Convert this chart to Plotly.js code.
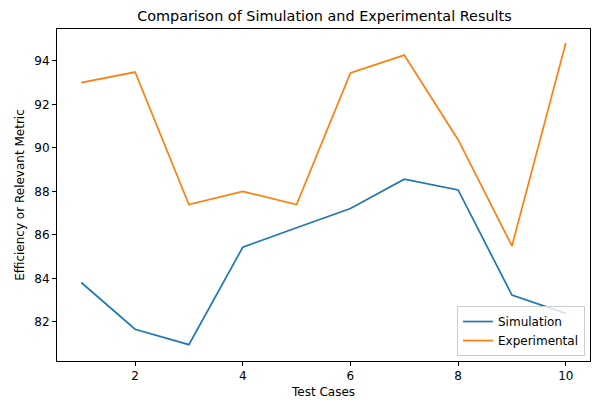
<!DOCTYPE html>
<html>
<head>
<meta charset="utf-8">
<script src="https://cdn.plot.ly/plotly-3.0.1.min.js"></script>
<style>html,body{margin:0;padding:0;background:#fff;}#chart{width:592px;height:400px;}</style>
</head>
<body>
<div id="chart"></div>
<script>
const testCases = [1, 2, 3, 4, 5, 6, 7, 8, 9, 10];
const simulation = [83.81, 81.66, 80.95, 85.43, 86.33, 87.21, 88.56, 88.07, 83.23, 82.39];
const experimental = [93.0, 93.49, 87.40, 88.0, 87.40, 93.45, 94.27, 90.38, 85.49, 94.83];
const seriesNames = ["Simulation", "Experimental"];
const yTicks = [82, 84, 86, 88, 90, 92, 94];
const xTicks = [2, 4, 6, 8, 10];

const font = "DejaVu Sans, sans-serif";
const traces = [
  {x: testCases, y: simulation, name: seriesNames[0], mode: "lines", line: {color: "#1f77b4", width: 1.7}},
  {x: testCases, y: experimental, name: seriesNames[1], mode: "lines", line: {color: "#ff7f0e", width: 1.7}}
];
const axisCommon = {
  showgrid: false, zeroline: false, showline: true, mirror: true,
  linecolor: "#000", linewidth: 1, ticks: "outside", ticklen: 4, tickwidth: 1, tickcolor: "#000",
  tickfont: {family: font, size: 12, color: "#000"}
};
const layout = {
  width: 592, height: 400,
  margin: {l: 57, r: 2, t: 29, b: 39},
  paper_bgcolor: "#fff", plot_bgcolor: "#fff",
  font: {family: font, color: "#000"},
  title: {text: "Comparison of Simulation and Experimental Results", font: {family: font, size: 14.4, color: "#000"}, x: 0.548, xanchor: "center", y: 0.96, yanchor: "middle"},
  xaxis: Object.assign({}, axisCommon, {
    range: [0.55, 10.45], tickvals: xTicks, ticktext: xTicks.map(String),
    title: {text: "Test Cases", font: {family: font, size: 12, color: "#000"}, standoff: 5}
  }),
  yaxis: Object.assign({}, axisCommon, {
    range: [80.2, 95.47], tickvals: yTicks, ticktext: yTicks.map(String),
    title: {text: "Efficiency or Relevant Metric", font: {family: font, size: 12, color: "#000"}, standoff: 7}
  }),
  showlegend: true,
  legend: {
    x: 0.9906, y: 0.015, xanchor: "right", yanchor: "bottom",
    bgcolor: "rgba(255,255,255,0.8)", bordercolor: "#cccccc", borderwidth: 1,
    font: {family: font, size: 12, color: "#000"},
    tracegroupgap: 0, itemwidth: 30
  }
};
Plotly.newPlot("chart", traces, layout, {displayModeBar: false, staticPlot: true});
</script>
</body>
</html>
